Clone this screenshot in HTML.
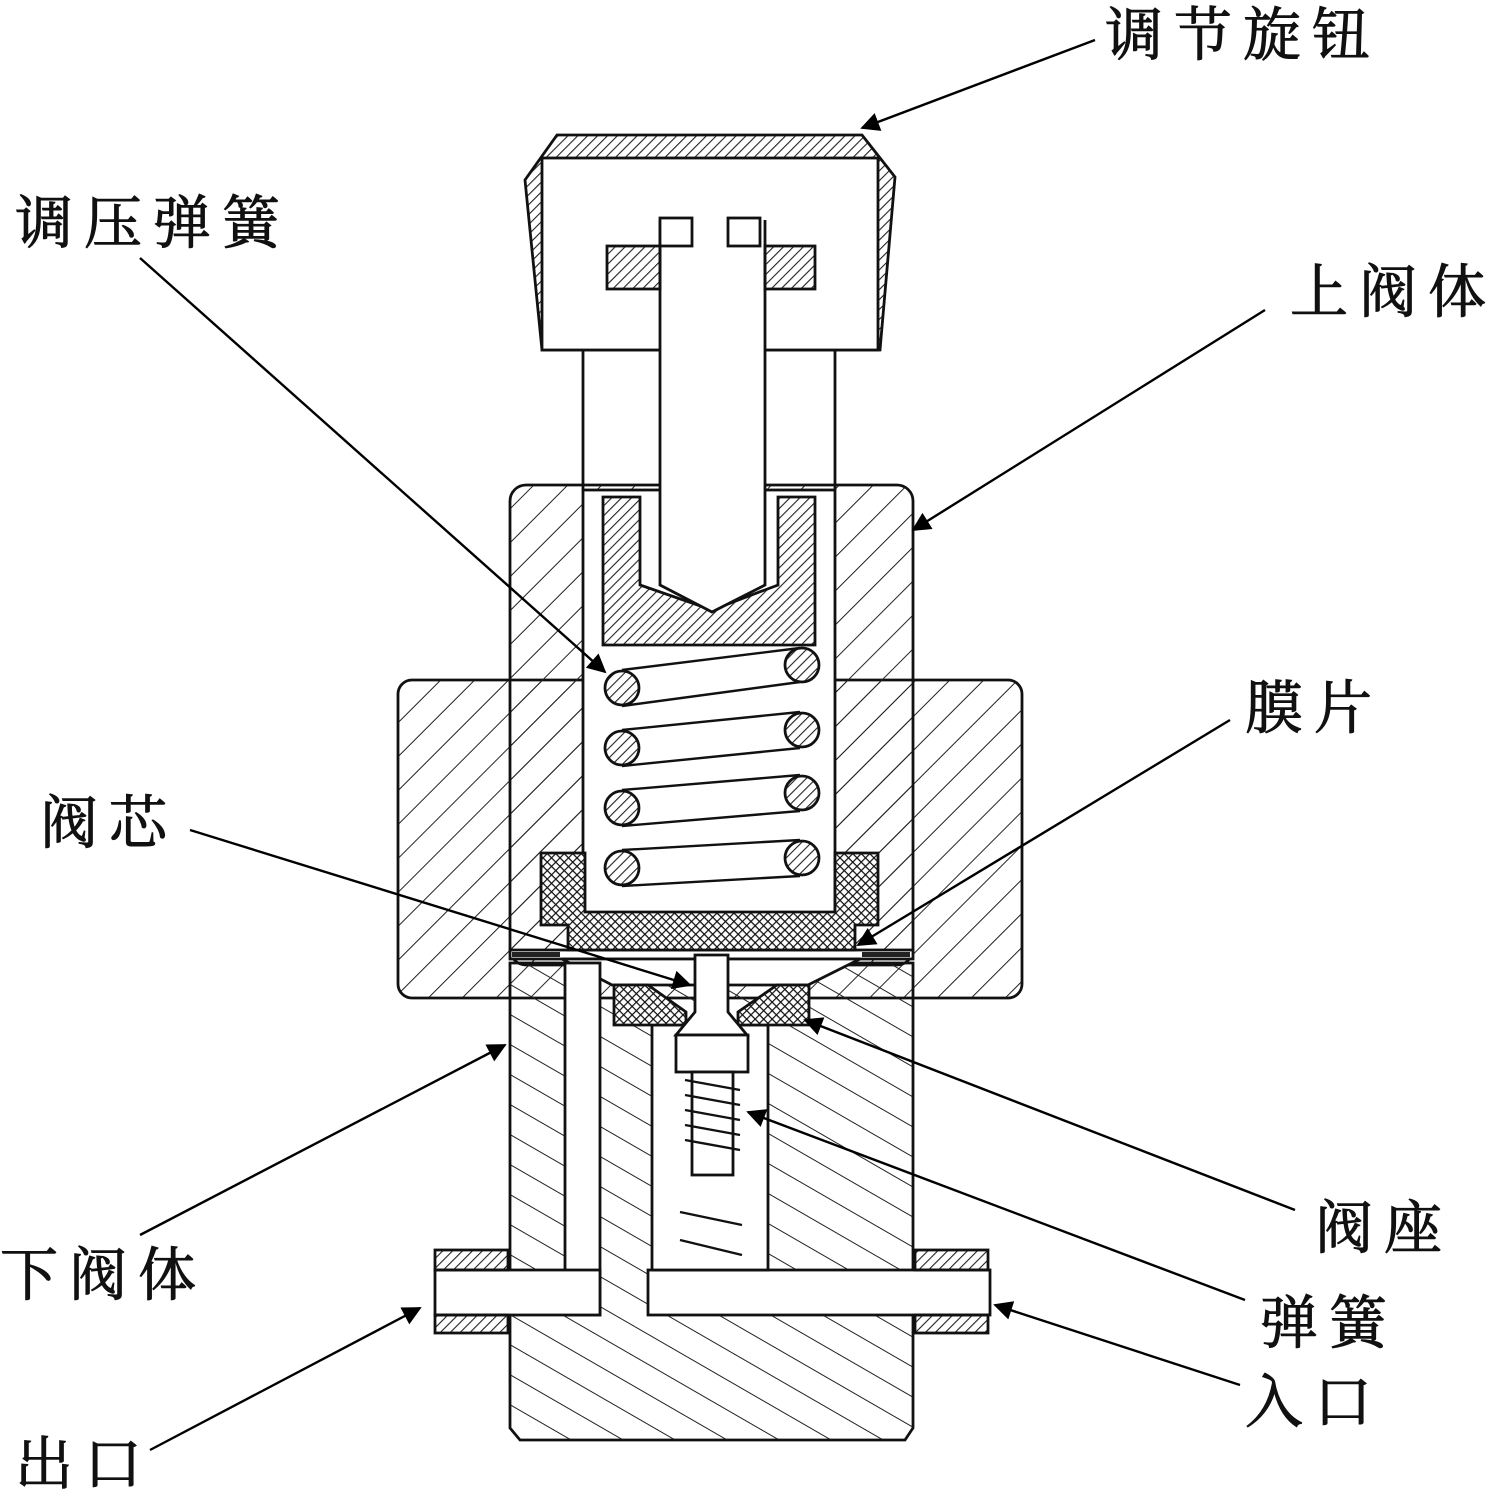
<!DOCTYPE html>
<html><head><meta charset="utf-8"><style>
html,body{margin:0;padding:0;background:#fff}
svg{display:block}
text{font-family:"Liberation Serif","Noto Serif CJK SC",serif;font-size:58px;fill:#111;stroke:#111;stroke-width:1;letter-spacing:11px}
</style></head><body>
<svg width="1493" height="1489" viewBox="0 0 1493 1489" xmlns="http://www.w3.org/2000/svg">
<defs>
<pattern id="h1" width="24" height="24" patternUnits="userSpaceOnUse" patternTransform="rotate(45)"><line x1="0" y1="0" x2="0" y2="24" stroke="#222" stroke-width="2"/></pattern>
<pattern id="h2" width="26" height="26" patternUnits="userSpaceOnUse" patternTransform="rotate(-60)"><line x1="0" y1="0" x2="0" y2="26" stroke="#222" stroke-width="2"/></pattern>
<pattern id="hd" width="7" height="7" patternUnits="userSpaceOnUse" patternTransform="rotate(45)"><line x1="0" y1="0" x2="0" y2="7" stroke="#222" stroke-width="2.2"/></pattern>
<pattern id="hx" width="6" height="6" patternUnits="userSpaceOnUse" patternTransform="rotate(45)"><rect width="6" height="6" fill="#fff"/><path d="M0 0V6M0 0H6" stroke="#111" stroke-width="2.4"/></pattern>
<marker id="arr" viewBox="0 0 10 10" refX="9" refY="5" markerWidth="24" markerHeight="19" orient="auto" markerUnits="userSpaceOnUse"><path d="M0 0L10 5L0 10z" fill="#000"/></marker>
</defs>
<g stroke="#111" stroke-width="2.8">
<rect x="398" y="680" width="624" height="318" rx="14" fill="url(#h1)"/>
<rect x="510" y="485" width="403" height="480" rx="16" fill="url(#h1)"/>
<path d="M510 963H913V1428L905 1440H520L510 1428Z" fill="url(#h2)"/>
<rect x="583" y="490" width="252" height="460" fill="#fff"/>
<rect x="510" y="950" width="403" height="9" fill="#fff"/>
<rect x="512" y="952" width="48" height="5" fill="#222" stroke="none"/>
<rect x="862" y="952" width="48" height="5" fill="#222" stroke="none"/>
<path d="M562 959L860 959L808 985L612 985Z" fill="#fff"/>
<rect x="565" y="963" width="35" height="352" fill="#fff"/>
<rect x="435" y="1270" width="165" height="45" fill="#fff"/>
<rect x="648" y="1270" width="342" height="45" fill="#fff"/>
<rect x="652" y="1025" width="116" height="245" fill="#fff"/>
<rect x="435" y="1250" width="73" height="20" fill="url(#hd)"/>
<rect x="435" y="1315" width="73" height="18" fill="url(#hd)"/>
<rect x="915" y="1250" width="73" height="20" fill="url(#hd)"/>
<rect x="915" y="1315" width="73" height="18" fill="url(#hd)"/>
<path d="M541 853H585V912H835V853H878V925H855V950H568V925H541Z" fill="url(#hx)"/>
<path d="M603 497H640V585L712 610L778 585V497H815V645H603Z" fill="url(#hd)"/>
<line x1="583" y1="350" x2="583" y2="490"/><line x1="835" y1="350" x2="835" y2="490"/>
<path d="M557 135H862L895 177L880 350H542L525 180Z" fill="url(#hd)"/>
<rect x="542" y="158" width="336" height="192" fill="#fff"/>
<path d="M660 220V585L712 612L765 585V220" fill="#fff"/>
<rect x="660" y="218" width="32" height="28" fill="#fff"/>
<rect x="728" y="218" width="32" height="28" fill="#fff"/>
<rect x="607" y="246" width="53" height="43" fill="url(#hd)"/>
<rect x="765" y="246" width="50" height="43" fill="url(#hd)"/>
<g fill="none" stroke-width="2.4">
<line x1="622" y1="670" x2="800" y2="648"/><line x1="622" y1="706" x2="800" y2="682"/>
<line x1="622" y1="730" x2="800" y2="712"/><line x1="622" y1="766" x2="800" y2="748"/>
<line x1="622" y1="790" x2="800" y2="775"/><line x1="622" y1="826" x2="800" y2="811"/>
<line x1="622" y1="850" x2="800" y2="840"/><line x1="622" y1="886" x2="800" y2="876"/>
</g>
<g fill="url(#hd)">
<circle cx="622" cy="688" r="17"/><circle cx="622" cy="748" r="17"/><circle cx="622" cy="808" r="17"/><circle cx="622" cy="868" r="17"/>
<circle cx="802" cy="665" r="17"/><circle cx="802" cy="730" r="17"/><circle cx="802" cy="793" r="17"/><circle cx="802" cy="858" r="17"/>
</g>
<path d="M614 985H648L686 1012V1025H614Z" fill="url(#hx)"/>
<path d="M777 985H809V1025H738V1012Z" fill="url(#hx)"/>
<path d="M695 955H728V1012L747 1035H676L695 1012Z" fill="#fff"/>
<rect x="676" y="1035" width="72" height="37" fill="#fff"/>
<rect x="692" y="1072" width="41" height="103" fill="#fff"/>
<g fill="none" stroke-width="2.4">
<path d="M685 1080L740 1090M685 1095L740 1105M685 1110L740 1120M685 1125L740 1135M685 1140L740 1150"/>
<path d="M680 1212L742 1225M680 1240L742 1255"/>
</g>
</g>
<g stroke="#000" stroke-width="2.4" fill="none">
<line x1="1095" y1="40" x2="862" y2="128" marker-end="url(#arr)"/>
<line x1="140" y1="258" x2="605" y2="672" marker-end="url(#arr)"/>
<line x1="1265" y1="310" x2="913" y2="530" marker-end="url(#arr)"/>
<line x1="1230" y1="720" x2="858" y2="945" marker-end="url(#arr)"/>
<line x1="190" y1="830" x2="690" y2="985" marker-end="url(#arr)"/>
<line x1="140" y1="1235" x2="505" y2="1045" marker-end="url(#arr)"/>
<line x1="1295" y1="1210" x2="805" y2="1020" marker-end="url(#arr)"/>
<line x1="1245" y1="1300" x2="748" y2="1112" marker-end="url(#arr)"/>
<line x1="1240" y1="1385" x2="995" y2="1305" marker-end="url(#arr)"/>
<line x1="150" y1="1450" x2="420" y2="1308" marker-end="url(#arr)"/>
</g>
<text x="1105" y="55">调节旋钮</text>
<text x="15" y="243">调压弹簧</text>
<text x="1290" y="312">上阀体</text>
<text x="1245" y="728">膜片</text>
<text x="40" y="843">阀芯</text>
<text x="0" y="1295">下阀体</text>
<text x="1315" y="1248">阀座</text>
<text x="1260" y="1343">弹簧</text>
<text x="1245" y="1422">入口</text>
<text x="15" y="1484">出口</text>
</svg>
</body></html>
